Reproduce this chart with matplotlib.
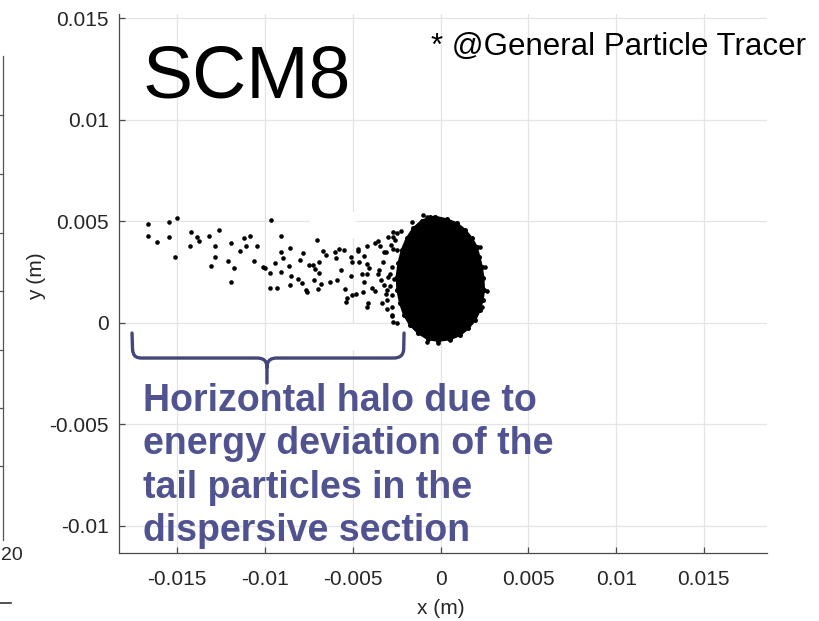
import numpy as np
import matplotlib
matplotlib.use("Agg")
import matplotlib.pyplot as plt
from matplotlib.lines import Line2D
from matplotlib.path import Path
from matplotlib.patches import PathPatch, Rectangle

plt.rcParams['font.family'] = ['Liberation Sans', 'DejaVu Sans']

# ---------------- data (millimetres, converted to metres when plotted) ----------------
# tail / halo particles
halo_x = [-16.65, -15.47, -15.01, -16.68, -16.15, -15.45, -15.13, -14.22, -13.87, -13.74,
          -14.29, -13.21, -12.62, -12.83, -12.83, -13.06, -11.95, -11.18, -10.85, -11.10,
          -10.47, -11.42, -12.13, -11.78, -11.95, -10.61, -10.13, -9.98, -9.68, -9.07,
          -9.11, -8.96, -8.58, -9.41, -9.73, -9.07, -8.62, -8.52, -8.02, -7.82,
          -7.48, -8.59, -8.14, -7.91, -9.70, -9.30, -7.66, -7.59, -7.05, -6.68,
          -6.51, -5.99, -5.77, -5.50, -5.95, -6.92, -7.25, -7.13, -6.91, -7.19,
          -6.79, -6.96, -6.28, -5.90, -5.69, -5.12, -4.68, -4.68, -5.03, -4.64,
          -4.34, -4.17, -3.73, -3.54, -3.46, -3.24, -3.11, -4.17, -4.07, -4.49,
          -4.21, -5.12, -4.38, -4.40, -4.80, -5.06, -5.42, -5.34, -5.37, -4.11,
          -4.21, -3.92, -3.73, -3.58, -3.50, -3.39, -3.20, -3.12, -3.32, -3.03,
          -2.75, -3.26, -2.75, -2.97, -2.69, -2.50, -2.59, -2.82, -2.71, -2.50,
          -2.86, -2.63, -2.88, -3.07, -2.78, -2.69, -2.78, -1.64, -1.01, -0.79,
          -2.69, -2.27, -3.07, -2.97, -2.78, -2.50, 2.54, 2.63, 2.38, 2.25,
          -0.79, -0.13, 0.54]
halo_y = [4.88, 4.98, 5.17, 4.27, 3.96, 4.24, 3.25, 4.45, 4.22, 4.02,
          3.76, 4.29, 4.57, 3.76, 3.25, 2.78, 3.91, 4.19, 4.29, 3.76,
          3.76, 3.53, 3.05, 2.69, 1.99, 3.04, 2.76, 2.68, 5.04, 4.29,
          3.48, 3.20, 3.69, 2.93, 2.43, 2.51, 2.81, 2.32, 3.09, 3.42,
          2.83, 1.86, 2.15, 1.96, 1.69, 1.69, 1.61, 1.51, 4.07, 3.55,
          3.32, 3.48, 3.62, 3.60, 3.19, 2.98, 2.84, 2.63, 2.43, 2.12,
          1.91, 1.66, 2.02, 2.12, 2.60, 3.24, 3.65, 3.53, 2.98, 2.98,
          3.30, 3.79, 3.91, 4.04, 3.79, 3.47, 3.47, 2.88, 2.71, 2.38,
          2.38, 2.32, 1.99, 1.53, 1.40, 1.36, 1.66, 1.20, 1.02, 0.97,
          0.79, 1.69, 1.56, 2.38, 2.60, 2.09, 1.86, 1.40, 0.97, 0.66,
          0.38, 3.00, 2.73, 4.24, 4.24, 4.40, 4.07, 3.83, 3.63, 3.58,
          2.38, 2.15, 1.82, 1.61, 1.36, 0.05, 0.33, 4.98, 5.32, 5.22,
          4.45, 4.53, 1.12, 2.24, 0.79, -0.03, 2.76, 1.58, 0.76, 3.74,
          -0.94, -0.99, -0.85]

# outline of the dense bunch core (thousands of overlapping particles)
core_x = [-0.31, 0.35, 0.92, 1.40, 1.78, 2.06, 2.21, 2.35, 2.44, 2.48,
          2.40, 2.25, 1.97, 1.58, 1.11, 0.54, -0.13, -0.70, -1.26, -1.74,
          -2.08, -2.31, -2.46, -2.50, -2.40, -2.21, -1.93, -1.55, -1.07, -0.60]
core_y = [5.22, 5.09, 4.90, 4.57, 4.16, 3.74, 3.25, 2.76, 2.19, 1.61,
          1.12, 0.63, 0.13, -0.28, -0.61, -0.82, -0.89, -0.82, -0.52, -0.11,
          0.38, 0.96, 1.61, 2.27, 2.93, 3.58, 4.16, 4.65, 5.02, 5.19]

xticks = [-0.015, -0.01, -0.005, 0, 0.005, 0.01, 0.015]
xtick_labels = ['-0.015', '-0.01', '-0.005', '0', '0.005', '0.01', '0.015']
yticks = [-0.01, -0.005, 0, 0.005, 0.01, 0.015]
ytick_labels = ['-0.01', '-0.005', '0', '0.005', '0.01', '0.015']

title_text = 'SCM8'
credit_text = '* @General Particle Tracer'
note_lines = ['Horizontal halo due to', 'energy deviation of the',
              'tail particles in the', 'dispersive section']

# brace under the halo (annotation, mm)
brace_x = [-17.58, -17.55, -17.52, -17.35, -17.0, -10.5, -10.1, -9.9, -9.89, -9.89,
           -9.89, -9.88, -9.68, -9.3, -2.7, -2.3, -2.12, -2.10, -2.08]
brace_y = [-0.51, -1.3, -1.65, -1.74, -1.74, -1.74, -1.74, -1.85, -2.2, -2.97,
           -2.2, -1.85, -1.74, -1.74, -1.74, -1.74, -1.6, -1.3, -0.51]
brace_codes = [Path.MOVETO, Path.LINETO, Path.CURVE4, Path.CURVE4, Path.CURVE4,
               Path.LINETO, Path.CURVE4, Path.CURVE4, Path.CURVE4, Path.LINETO,
               Path.MOVETO, Path.CURVE4, Path.CURVE4, Path.CURVE4, Path.LINETO,
               Path.CURVE4, Path.CURVE4, Path.CURVE4, Path.LINETO]

# ---------------- figure ----------------
W, H = 819, 621
fig = plt.figure(figsize=(W / 100, H / 100), dpi=100)
fig.patch.set_facecolor('white')

L, R, T, B = 118.5, 767, 14, 553
ax = fig.add_axes([L / W, 1 - B / H, (R - L) / W, (B - T) / H])

mm = 1e-3
ax.set_xlim(-18.35 * mm, 18.6 * mm)
ax.set_ylim(-11.34 * mm, 15.2 * mm)

ax.grid(True, color='#e4e4e4', lw=0.9)
ax.set_axisbelow(True)

# white overlay patches that hide bits of the grid in the reference
for (px0, px1, py0, py1) in [(-7.44, -4.81, 4.17, 5.45), (-5.38, -4.70, -1.35, -0.06)]:
    ax.add_patch(Rectangle((px0 * mm, py0 * mm), (px1 - px0) * mm, (py1 - py0) * mm,
                           facecolor='white', edgecolor='none', zorder=1.8))

cx = np.array(core_x) * mm
cy = np.array(core_y) * mm
ax.fill(cx, cy, color='black', lw=1.5, zorder=3)
ax.plot(cx, cy, 'o', ms=3.6, color='black', mew=0, zorder=3)
ax.plot(np.array(halo_x) * mm, np.array(halo_y) * mm, 'o', ms=3.3, color='black',
        mew=0, zorder=3)

for s in ['top', 'right']:
    ax.spines[s].set_visible(False)
for s in ['left', 'bottom']:
    ax.spines[s].set_color('#4a4a4a')
    ax.spines[s].set_linewidth(0.9)

ax.set_xticks(xticks)
ax.set_xticklabels(xtick_labels)
ax.set_yticks(yticks)
ax.set_yticklabels(ytick_labels)
ax.tick_params(axis='both', direction='in', length=4, width=0.9, color='#4a4a4a',
               labelsize=15, labelcolor='#262626')
ax.tick_params(axis='x', pad=12)
ax.tick_params(axis='y', pad=7)

fig.text(441 / W, 1 - 608 / H, 'x (m)', fontsize=15, color='#262626',
         ha='center', va='center')
fig.text(37 / W, 1 - 276 / H, 'y (m)', fontsize=15, color='#262626',
         ha='center', va='center', rotation=90)

fig.text(143 / W, 1 - 97 / H, title_text, fontsize=54, color='black',
         ha='left', va='baseline')
fig.text(431 / W, 1 - 55 / H, credit_text, fontsize=22.5, color='black',
         ha='left', va='baseline')

note_color = '#50538f'
for i, line in enumerate(note_lines):
    fig.text(143 / W, 1 - (411 + 43.3 * i) / H, line, fontsize=27, fontweight='bold',
             color=note_color, ha='left', va='baseline')

verts = list(zip(np.array(brace_x) * mm, np.array(brace_y) * mm))
brace = PathPatch(Path(verts, brace_codes), facecolor='none', edgecolor='#434676',
                  lw=2.4, capstyle='round', joinstyle='round', zorder=4, clip_on=False)
ax.add_patch(brace)

# fragment of a neighbouring panel at the left edge
fig.add_artist(Line2D([3.4 / W, 3.4 / W], [1 - 56 / H, 1 - 540 / H], color='#555555',
                      lw=0.9, transform=fig.transFigure))
for ty in [115, 174, 233, 291, 350, 408, 466]:
    fig.add_artist(Line2D([0, 3.4 / W], [1 - ty / H, 1 - ty / H], color='#555555',
                          lw=0.9, transform=fig.transFigure))
fig.add_artist(Line2D([0, 11 / W], [1 - 603 / H, 1 - 603 / H], color='#333333',
                      lw=1.2, transform=fig.transFigure))
fig.text(0.5 / W, 1 - 556 / H, '20', fontsize=14, color='#262626', ha='left',
         va='center')

fig.savefig('out.png', dpi=100)
